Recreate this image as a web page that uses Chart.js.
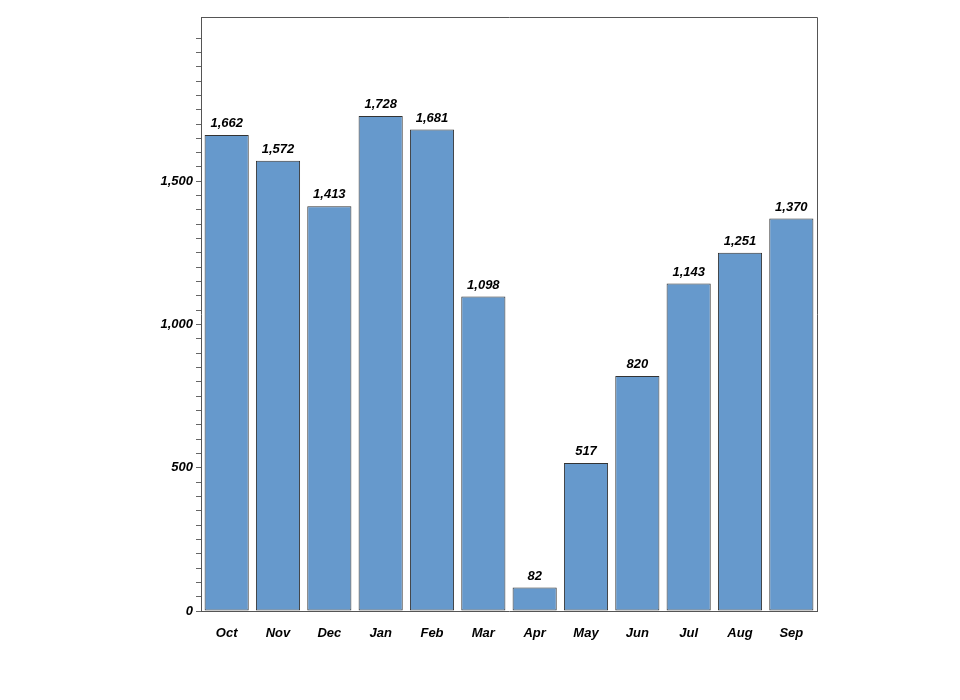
<!DOCTYPE html>
<html>
<head>
<meta charset="utf-8">
<script src="https://cdn.jsdelivr.net/npm/chart.js@4/dist/chart.umd.min.js"></script>
<style>
  html, body { margin: 0; padding: 0; background: #fff; }
  #wrap { width: 960px; height: 700px; }
</style>
</head>
<body>
<div id="wrap"><canvas id="grafico"></canvas></div>
<script>
/* datos */
const meses = ['Oct', 'Nov', 'Dec', 'Jan', 'Feb', 'Mar', 'Apr', 'May', 'Jun', 'Jul', 'Aug', 'Sep'];
const valores = [1662, 1572, 1413, 1728, 1681, 1098, 82, 517, 820, 1143, 1251, 1370];
const ticksY = [0, 500, 1000, 1500];
const ejeMax = 2073.6;

const fuente = { family: "'Liberation Sans', Arial, sans-serif", size: 13, weight: 'bold', style: 'italic' };

/* etiquetas sobre barras + marco */
const etiquetas = {
    id: 'etiquetas',
    afterDatasetsDraw(chart) {
        const ctx = chart.ctx;
        const meta = chart.getDatasetMeta(0);
        ctx.save();
        ctx.font = 'italic bold 13px "Liberation Sans", Arial, sans-serif';
        ctx.fillStyle = '#000';
        ctx.textAlign = 'center';
        ctx.textBaseline = 'bottom';
        meta.data.forEach((bar, i) => {
            ctx.fillText(valores[i].toLocaleString('en-US'), bar.x, bar.y - 5);
        });
        const a = chart.chartArea;
        ctx.strokeStyle = '#555';
        ctx.lineWidth = 1;
        ctx.beginPath();
        ctx.moveTo(a.left + 0.5, a.top + 0.5);
        ctx.lineTo(a.right + 0.5, a.top + 0.5);
        ctx.lineTo(a.right + 0.5, a.bottom);
        ctx.stroke();
        ctx.restore();
    }
};

const grafico = document.getElementById('grafico').getContext('2d');
new Chart(grafico, {
    type: 'bar',
    data: {
        labels: meses,
        datasets: [{
            label: 'Cantidad',
            data: valores,
            backgroundColor: '#6699CC',
            borderColor: '#333',
            borderWidth: 1,
            borderSkipped: false,
            barPercentage: 0.86,
            categoryPercentage: 1.0
        }]
    },
    options: {
        responsive: true,
        maintainAspectRatio: false,
        animation: false,
        layout: { padding: { top: 17, right: 143, bottom: 0, left: 0 } },
        plugins: {
            legend: { display: false },
            tooltip: { enabled: false }
        },
        scales: {
            x: {
                grid: { display: false },
                border: { display: true, color: '#555' },
                ticks: { color: '#000', font: fuente, padding: 7 },
                afterFit(scale) { scale.height = 89; }
            },
            y: {
                min: 0,
                max: ejeMax,
                afterBuildTicks(scale) {
                    const t = [];
                    for (let v = 0; v <= 2000; v += 50) t.push({ value: v });
                    scale.ticks = t;
                },
                grid: { drawOnChartArea: false, drawTicks: true, tickLength: 5, color: '#666' },
                border: { display: true, color: '#555' },
                ticks: {
                    color: '#000',
                    font: fuente,
                    padding: 3,
                    autoSkip: false,
                    callback: (v) => ticksY.includes(v) ? v.toLocaleString('en-US') : ''
                },
                afterFit(scale) { scale.width = 201; }
            }
        }
    },
    plugins: [etiquetas]
});
</script>
</body>
</html>
